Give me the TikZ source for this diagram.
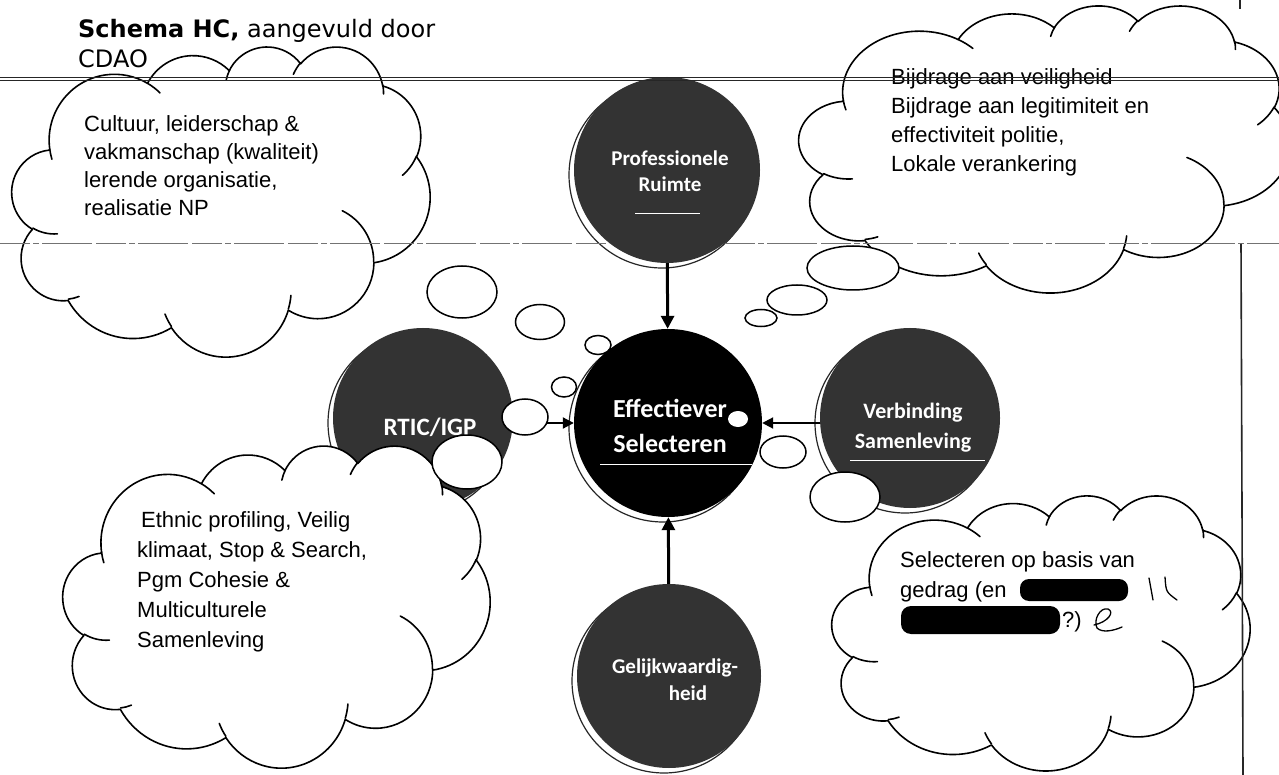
\documentclass[tikz,border=0pt]{standalone}
\usepackage{fontspec}
\setmainfont{Liberation Sans}
\newfontfamily\titlefont{DejaVu Sans}
\newfontfamily\btnfont{Carlito}
\usetikzlibrary{arrows.meta}
\tikzset{
  oo/.code n args={4}{%
    \pgfmathsetmacro\oophi{#3}%
    \pgfmathsetmacro\ootz{atan2((#1)*sin(\oophi),(#2)*cos(\oophi))}%
    \pgfmathsetmacro\oost{\ootz+360*round((\oophi-\ootz)/360)}%
    \pgfmathsetmacro\oophi{#3+#4}%
    \pgfmathsetmacro\ootz{atan2((#1)*sin(\oophi),(#2)*cos(\oophi))}%
    \pgfmathsetmacro\ooen{\ootz+360*round((\oophi-\ootz)/360)}%
    \edef\ootmp{\noexpand\pgfkeysalso{x radius=#1pt,y radius=#2pt,start angle=\oost,end angle=\ooen}}\ootmp},
  cloudline/.style={draw=black, fill=white, line width=1.6pt, line join=round},
  hookline/.style={draw=black, line width=1.6pt, line cap=round},
  bubble/.style={draw=black, fill=white, line width=1.5pt},
  btn/.style={circle, fill=black!80, inner sep=0pt},
  ring/.style={draw=black!85, line width=1.2pt},
  hilite/.style={draw=white, line width=1pt},
  btntext/.style={text=white, anchor=base, inner sep=0pt},
  cloudtext/.style={anchor=base west, inner sep=0pt, font=\fontsize{22}{30}\selectfont},
  titletext/.style={anchor=base west, inner sep=0pt, font=\titlefont\fontsize{24}{30}\selectfont},
  arr/.style={draw=black, line width=3pt, -{Triangle[length=13pt,width=13pt]}},
  harr/.style={draw=black, line width=2pt, -{Triangle[length=11pt,width=11pt]}},
  hand/.style={draw=black, line width=1.3pt, line cap=round, line join=round},
  rule/.style={draw=black!85, line width=1.3pt},
  dashrule/.style={draw=black!55, line width=0.9pt, dash pattern=on 30pt off 3pt on 6pt off 3pt on 50pt off 4pt},
}
\newcommand\cloudshape{%
\draw[cloudline] (39.00pt,143.70pt)
 arc[oo={67.53}{91.90}{-190.4875}{123.7805}]
 arc[oo={53.33}{72.67}{-144.1024}{89.9452}]
 arc[oo={43.65}{59.45}{-145.8079}{99.7230}]
 arc[oo={48.57}{65.95}{-130.9861}{117.2417}]
 arc[oo={53.33}{72.73}{-78.7089}{109.0269}]
 arc[oo={67.75}{92.20}{-46.2673}{130.2690}]
 arc[oo={57.85}{78.67}{0.6250}{114.0333}]
 arc[oo={67.52}{92.15}{22.4516}{115.1726}]
 arc[oo={77.20}{105.43}{66.2426}{75.7110}]
 arc[oo={43.60}{59.18}{-274.9421}{146.7356}]
 arc[oo={43.45}{59.45}{-246.8285}{152.5189}]
 -- cycle;
\draw[hookline]
 (46.93pt,261.77pt) arc[oo={43.45}{59.45}{86.7420}{26.4295}]
 (69.28pt,348.99pt) arc[oo={43.60}{59.18}{73.6105}{11.4475}]
 (164.78pt,390.90pt) arc[oo={67.52}{92.15}{137.6242}{14.0811}]
 (288.27pt,347.51pt) arc[oo={67.52}{92.15}{6.4533}{15.9984}]
 (341.29pt,229.54pt) arc[oo={57.85}{78.67}{-70.2924}{70.9174}]
 (417.98pt,153.54pt) arc[oo={53.33}{72.73}{30.3180}{27.7515}]
 (383.24pt,54.26pt) arc[oo={48.57}{65.95}{-13.7443}{14.8589}]
 (290.78pt,39.52pt) arc[oo={48.57}{65.95}{-149.1815}{18.1954}]
 (221.41pt,47.20pt) arc[oo={43.65}{59.45}{-163.4943}{17.6864}]
 (140.00pt,51.92pt) arc[oo={67.53}{91.90}{-66.7070}{12.3194}]
 (41.27pt,157.89pt) arc[oo={67.53}{91.90}{157.6544}{11.8582}];
}
\begin{document}
\begin{tikzpicture}[x=1pt,y=-1pt]
\useasboundingbox (0,0) rectangle (1279,775);
\fill[white] (0,0) rectangle (1279,775);

% title
\node[titletext] (title) at (78,38) {\textbf{Schema HC,} aangevuld door};
\node[titletext] (cdao) at (78,68) {CDAO};

% 3D rings
\draw[ring] (662,175) circle[radius=93pt];
\draw[ring] (663,428) circle[radius=94pt];
\draw[ring] (418,423) circle[radius=90pt];
\draw[ring] (905,423) circle[radius=90pt];
\draw[ring] (664,681) circle[radius=92pt];

% buttons
\node[btn, minimum size=186pt] (prof) at (667,170) {};
\node[btn, minimum size=188pt, fill=black] (eff) at (668,423) {};
\node[btn, minimum size=180pt] (rtic) at (423,418) {};
\node[btn, minimum size=180pt] (verb) at (910,418) {};
\node[btn, minimum size=184pt] (gel) at (669,676) {};

\draw[hilite] (635,214) -- (700,214);
\draw[hilite] (600,464) -- (752,464);
\draw[hilite] (850,460) -- (985,460);

\node[btntext, font=\btnfont\bfseries\fontsize{21}{26}\selectfont] (proft1) at (670,166) {Professionele};
\node[btntext, font=\btnfont\bfseries\fontsize{21}{26}\selectfont] (proft2) at (670,192) {Ruimte};
\node[btntext, font=\btnfont\bfseries\fontsize{26}{32}\selectfont] (efft1) at (670,417) {Effectiever};
\node[btntext, font=\btnfont\bfseries\fontsize{26}{32}\selectfont] (efft2) at (670,452) {Selecteren};
\node[btntext, font=\btnfont\bfseries\fontsize{25}{30}\selectfont] (rtict) at (430,435) {RTIC/IGP};
\node[btntext, font=\btnfont\bfseries\fontsize{22}{28}\selectfont] (verbt1) at (913,418) {Verbinding};
\node[btntext, font=\btnfont\bfseries\fontsize{22}{28}\selectfont] (verbt2) at (913,448) {Samenleving};
\node[btntext, font=\btnfont\bfseries\fontsize{21}{26}\selectfont] (gelt1) at (675,673) {Gelijkwaardig-};
\node[btntext, font=\btnfont\bfseries\fontsize{21}{26}\selectfont] (gelt2) at (688,700) {heid};

% arrows
\draw[arr] (prof) -- (eff);
\draw[arr] (gel) -- (eff);
\draw[harr] (rtic.east |- eff.west) -- (eff.west);
\draw[harr] (verb.west |- eff.east) -- (eff.east);

% clouds
\begin{scope}[shift={(12,46)}, xscale=418/432, yscale=-310/432]\cloudshape\end{scope}
\begin{scope}[shift={(799,5)}, xscale=491/432, yscale=-287/432]\cloudshape\end{scope}
\begin{scope}[shift={(63,445)}, xscale=427/432, yscale=-322/432]\cloudshape\end{scope}
\begin{scope}[shift={(832,495)}, xscale=418/432, yscale=-275/432]\cloudshape\end{scope}

% cloud texts
\node[cloudtext] (tl1) at (84,132) {Cultuur, leiderschap \&};
\node[cloudtext] (tl2) at (84,160) {vakmanschap (kwaliteit)};
\node[cloudtext] (tl3) at (84,188) {lerende organisatie,};
\node[cloudtext] (tl4) at (84,216) {realisatie NP};

\node[cloudtext] (tr1) at (891,85) {Bijdrage aan veiligheid};
\node[cloudtext] (tr2) at (891,114) {Bijdrage aan legitimiteit en};
\node[cloudtext] (tr3) at (891,143) {effectiviteit politie,};
\node[cloudtext] (tr4) at (891,172) {Lokale verankering};

\node[cloudtext] (bl1) at (141,527) {Ethnic profiling, Veilig};
\node[cloudtext] (bl2) at (137,557) {klimaat, Stop \& Search,};
\node[cloudtext] (bl3) at (137,587) {Pgm Cohesie \&};
\node[cloudtext] (bl4) at (137,617) {Multiculturele};
\node[cloudtext] (bl5) at (137,647) {Samenleving};

\node[cloudtext] (br1) at (900,567) {Selecteren op basis van};
\node[cloudtext] (br2) at (900,597) {gedrag (en};
\node[cloudtext] (br3) at (1062,627) {?)};
\fill[black, rounded corners=9pt] (1020,579) rectangle (1128,601);
\fill[black, rounded corners=10pt] (901,606) rectangle (1060,634);
\draw[hand] (1149,578) -- (1153,600);
\draw[hand] (1165,577) .. controls (1166,592) .. (1177,600);
\draw[hand] (1094,625) .. controls (1108,622) and (1115,612) .. (1108,609) .. controls (1100,607) and (1093,620) .. (1097,628) .. controls (1102,633) and (1113,631) .. (1122,627);

% thought bubbles
\draw[bubble] (462,292) ellipse[x radius=35pt, y radius=26pt];
\draw[bubble] (540,322) ellipse[x radius=24.5pt, y radius=17.5pt];
\draw[bubble] (598,345) ellipse[x radius=13pt, y radius=9.5pt];
\draw[bubble] (564,387) ellipse[x radius=12.5pt, y radius=10pt];
\draw[bubble] (525,417) ellipse[x radius=23pt, y radius=18pt];
\draw[bubble] (467,462) ellipse[x radius=35pt, y radius=27pt];
\draw[bubble] (853,268) ellipse[x radius=46pt, y radius=22pt];
\draw[bubble] (797,300) ellipse[x radius=30pt, y radius=15pt];
\draw[bubble] (761,318) ellipse[x radius=16pt, y radius=8.5pt];
\fill[white] (738,419) ellipse[x radius=10pt, y radius=8pt];
\draw[bubble] (783,452) ellipse[x radius=23pt, y radius=16pt];
\draw[bubble] (845,497) ellipse[x radius=35pt, y radius=25pt];

% page rules
\draw[rule] (0,77.8) -- (1279,77.8);
\draw[rule, line width=0.9pt] (0,80.8) -- (1279,80.8);
\draw[dashrule] (0,243) -- (609,243);
\draw[dashrule] (725,243) -- (1279,243);
\draw[rule, line width=1.6pt] (1240,0) -- (1240,9);
\draw[rule, line width=1.6pt] (1241,244) -- (1243,775);
\end{tikzpicture}
\end{document}
